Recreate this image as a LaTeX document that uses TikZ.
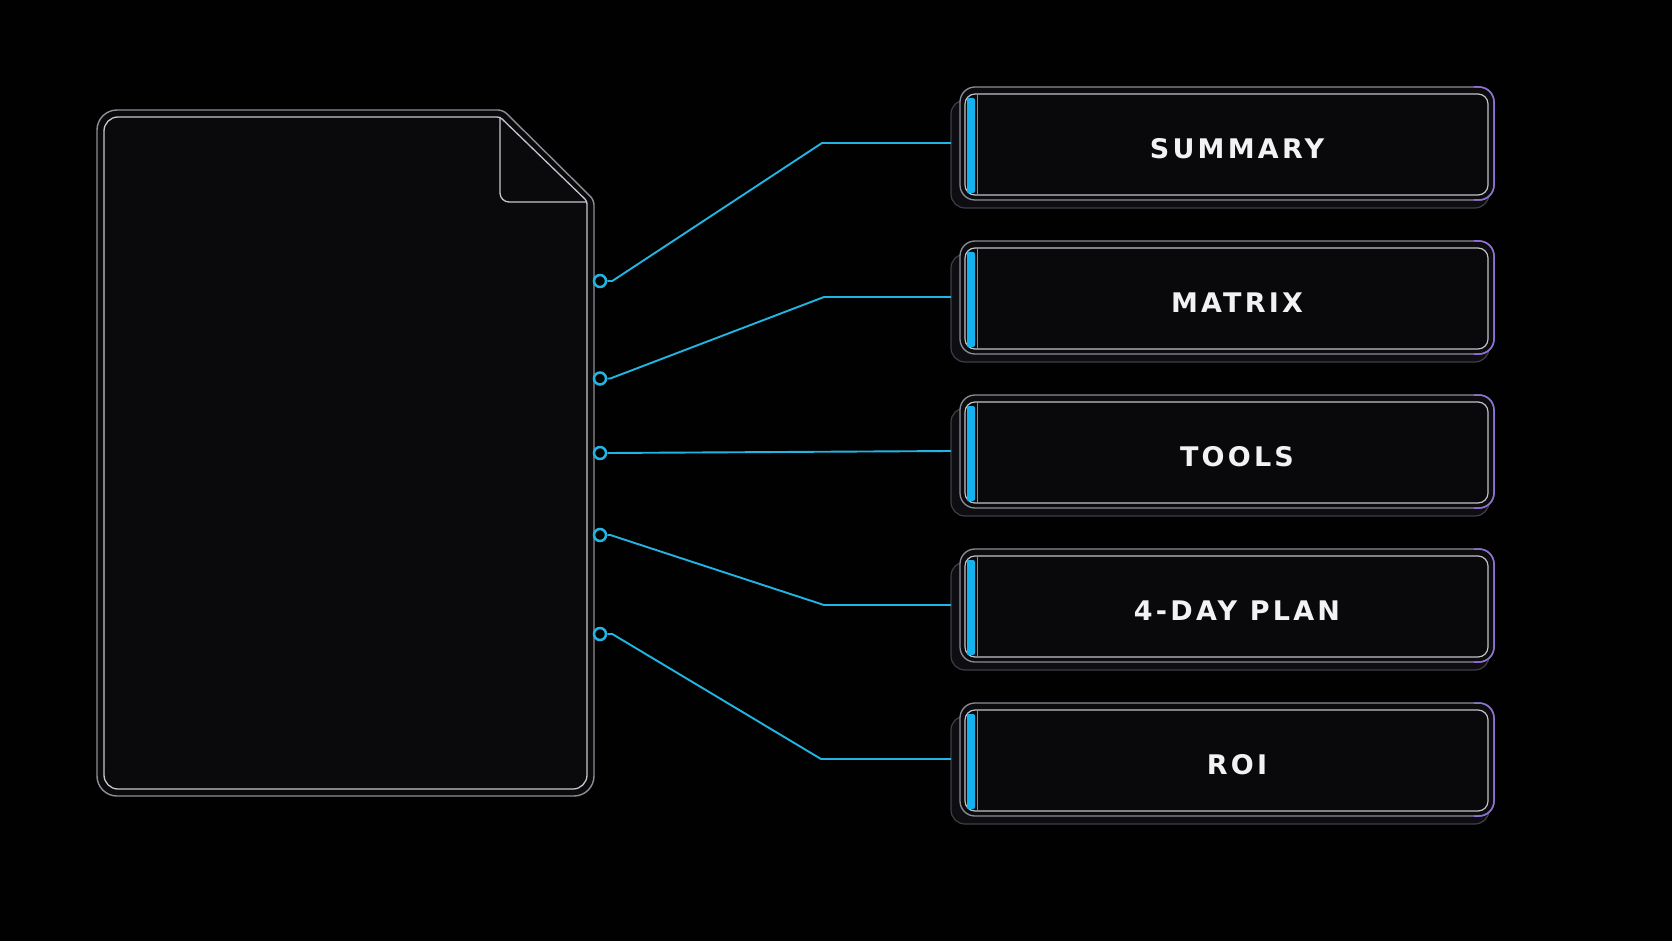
\documentclass[tikz,border=0pt]{standalone}
\usepackage{fontspec}
\newfontfamily\tagfont{DejaVu Sans}[LetterSpace=12]
\definecolor{bg}{HTML}{010102}
\definecolor{sheet}{HTML}{0A0A0D}
\definecolor{sheetout}{HTML}{8E8E95}
\definecolor{sheetin}{HTML}{C6C6CC}
\definecolor{wirec}{HTML}{22B4E2}
\definecolor{barc}{HTML}{14B2EE}
\definecolor{plateback}{HTML}{0E0E12}
\definecolor{platebackline}{HTML}{3E3E46}
\definecolor{platefill}{HTML}{0C0C0F}
\definecolor{plateline}{HTML}{8C8C96}
\definecolor{plateedge}{HTML}{8E70D8}
\definecolor{panelline}{HTML}{C2C2CA}
\definecolor{panelfill}{HTML}{09090B}
\definecolor{tagc}{HTML}{F2F2F4}
\tikzset{
  pin/.style={circle, draw=wirec, line width=2.5pt, fill=bg, minimum size=12pt, inner sep=0pt},
  wire/.style={draw=wirec, line width=1.9pt, line join=round},
  backplate/.style={fill=plateback, draw=platebackline, line width=1.2pt, rounded corners=14pt},
  frontplate/.style={fill=platefill, draw=plateline, line width=1.3pt, rounded corners=15pt},
  edgeglow/.style={draw=plateedge, line width=1.5pt, rounded corners=15pt},
  panel/.style={fill=panelfill, draw=panelline, line width=1.2pt, rounded corners=10pt},
  tag/.style={text=tagc, font=\tagfont\bfseries\fontsize{27}{27}\selectfont, inner sep=0pt, anchor=center}
}
\begin{document}
\begin{tikzpicture}[x=1pt, y=-1pt]
  \fill[bg] (0,0) rectangle (1672,941);
  \useasboundingbox (0,0) rectangle (1672,941);

  % document sheet: outer rim
  \filldraw[fill=sheet, draw=sheetout, line width=1.4pt]
    (97,450) [rounded corners=20pt] -- (97,110) [rounded corners=5pt] -- (503,110)
    -- (594,200) [rounded corners=20pt] -- (594,796) -- (97,796) -- cycle;
  % document sheet: inner rim
  \draw[draw=sheetin, line width=1.3pt]
    (104,450) [rounded corners=14pt] -- (104,117) [rounded corners=3pt] -- (500,117)
    -- (587,201) [rounded corners=14pt] -- (587,789) -- (104,789) -- cycle;
  % folded corner
  \draw[draw=sheetin, line width=1.3pt, rounded corners=9pt]
    (500,117) -- (500,202) -- (587,202);

  % output cards
  \foreach \i/\m/\lab in {1/143/SUMMARY, 2/297/MATRIX, 3/451/TOOLS, 4/605/4-DAY PLAN, 5/759/ROI} {
    \draw[backplate] (951,\m-43) rectangle (1489,\m+65);
    \draw[frontplate] (960,\m-56) rectangle (1494,\m+57);
    \begin{scope}
      \clip (1474,\m-70) rectangle (1510,\m+75);
      \draw[edgeglow] (960,\m-56) rectangle (1494,\m+57);
    \end{scope}
    \draw[panel] (965,\m-49) rectangle (1488,\m+52);
    \fill[barc, rounded corners=2pt] (967,\m-45) rectangle (975,\m+50);
    \draw[draw=plateline, line width=1pt] (977,\m-49) -- (977,\m+52);
    \coordinate (t\i) at (951,\m);
    \node[tag] (lbl\i) at (1237,\m+5.5) {\lab};
  }

  % connector pins on the sheet edge
  \node[pin] (d1) at (600,281) {};
  \node[pin] (d2) at (600,378.5) {};
  \node[pin] (d3) at (600,453) {};
  \node[pin] (d4) at (600,535) {};
  \node[pin] (d5) at (600,634) {};

  % elbows
  \coordinate (k1) at (822,143);
  \coordinate (k2) at (824,297);
  \coordinate (k4) at (824,605);
  \coordinate (k5) at (821,759);

  % connectors
  \draw[wire] (d1.east) -- ++(5,0) -- (k1) -- (t1);
  \draw[wire] (d2.east) -- ++(3,0) -- (k2) -- (t2);
  \draw[wire] (d3.east) -- (t3);
  \draw[wire] (d4.east) -- ++(3,0) -- (k4) -- (t4);
  \draw[wire] (d5.east) -- ++(5,0) -- (k5) -- (t5);
\end{tikzpicture}
\end{document}
